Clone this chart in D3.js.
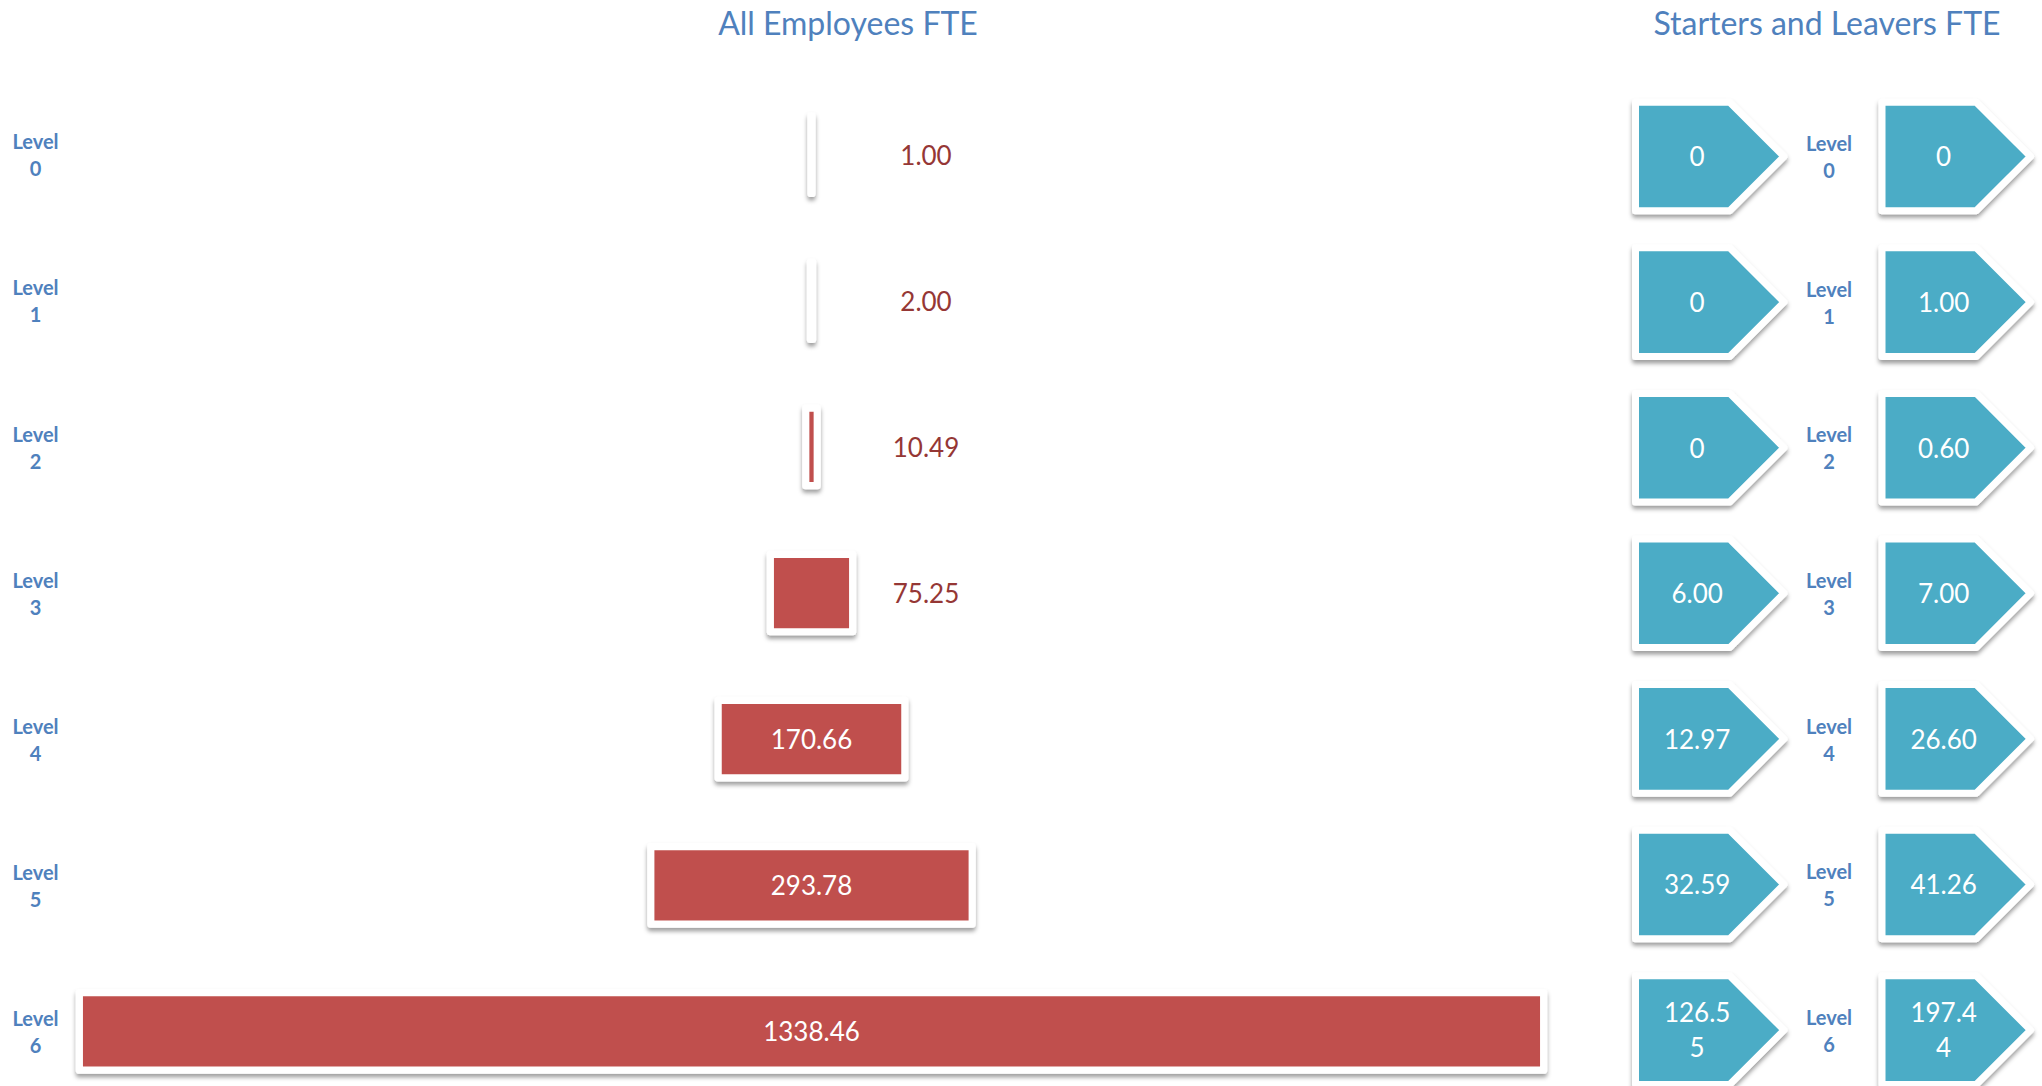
<!DOCTYPE html>
<html>
<head>
<meta charset="utf-8">
<script src="https://cdn.jsdelivr.net/npm/d3@7"></script>
<style>
  html, body { margin: 0; padding: 0; background: #ffffff; }
  svg { display: block; }
</style>
</head>
<body>
<svg id="chart" width="2042" height="1086"></svg>
<script>
// Headcount by grade level
const levels = ["0", "1", "2", "3", "4", "5", "6"];
const employeesFTE = [1.00, 2.00, 10.49, 75.25, 170.66, 293.78, 1338.46];
const startersFTE = [0, 0, 0, 6.00, 12.97, 32.59, 126.55];
const leaversFTE = [0, 1.00, 0.60, 7.00, 26.60, 41.26, 197.44];
const panelTitles = ["All Employees FTE", "Starters and Leavers FTE"];
const levelWord = "Level";

// Palette
const BLUE = "#4F81BD";
const RED = "#C0504D";
const DARK_RED = "#953735";
const TEAL = "#4BACC6";
const FONT = "Lato, 'Open Sans', sans-serif";

const svg = d3.select("#chart");

// Soft drop shadow shared by every shape
const defs = svg.append("defs");
defs.append("filter")
  .attr("id", "shadow")
  .attr("filterUnits", "userSpaceOnUse")
  .attr("x", 0).attr("y", 0).attr("width", 2042).attr("height", 1086)
  .append("feDropShadow")
  .attr("dx", 0).attr("dy", 3.5).attr("stdDeviation", 2.2)
  .attr("flood-color", "#000").attr("flood-opacity", 0.38);

const fmt = v => v === 0 ? "0" : v.toFixed(2);

// ---------- Panel titles ----------
const titleFont = 32;
svg.append("text")
  .attr("x", 848).attr("y", 35)
  .attr("text-anchor", "middle")
  .attr("font-family", FONT).attr("font-size", titleFont)
  .attr("fill", BLUE)
  .text(panelTitles[0]);

svg.append("text")
  .attr("x", 1827).attr("y", 35)
  .attr("text-anchor", "middle")
  .attr("font-family", FONT).attr("font-size", titleFont)
  .attr("fill", BLUE)
  .text(panelTitles[1]);

// ---------- Funnel of all employees ----------
const funnelCenterX = 811.5;
const yFunnel = d3.scaleBand()
  .domain(levels)
  .range([81.6, 1104.5])
  .paddingInner(0.47)
  .paddingOuter(0.235);

const wFunnel = d3.scaleLinear()
  .domain([0, d3.max(employeesFTE)])
  .range([0, 1464.3]);

const funnelData = levels.map((lv, i) => ({ level: lv, value: employeesFTE[i] }));

const bars = svg.append("g").attr("class", "funnel");

bars.selectAll("rect")
  .data(funnelData)
  .join("rect")
  .attr("x", d => funnelCenterX - wFunnel(d.value) / 2)
  .attr("y", d => yFunnel(d.level))
  .attr("width", d => wFunnel(d.value))
  .attr("height", yFunnel.bandwidth())
  .attr("fill", RED)
  .attr("stroke", "#ffffff")
  .attr("stroke-width", 7.2)
  .attr("stroke-linejoin", "round")
  .attr("filter", "url(#shadow)");

// Value labels: inside wide bars, in a column to the right of narrow ones
const valueFont = 26;
const outsideLabelX = 926;
const labels = bars.selectAll("text.value")
  .data(funnelData)
  .join("text")
  .attr("class", "value")
  .attr("font-family", FONT)
  .attr("font-size", valueFont)
  .attr("text-anchor", "middle")
  .attr("y", d => yFunnel(d.level) + yFunnel.bandwidth() / 2 + valueFont * 0.38)
  .text(d => fmt(d.value));

labels.each(function (d) {
  const tw = this.getComputedTextLength();
  const inside = wFunnel(d.value) > tw + 40;
  d3.select(this)
    .attr("x", inside ? funnelCenterX : outsideLabelX)
    .attr("fill", inside ? "#ffffff" : DARK_RED);
});

// Level captions
const levelFont = 20;
function levelCaption(g, x, cy, lv) {
  const t = g.append("text")
    .attr("font-family", FONT)
    .attr("font-weight", 700)
    .attr("font-size", levelFont)
    .attr("fill", BLUE)
    .attr("text-anchor", "middle");
  t.append("tspan").attr("x", x).attr("y", cy - 12.5 + levelFont * 0.36).text(levelWord);
  t.append("tspan").attr("x", x).attr("y", cy + 14.5 + levelFont * 0.36).text(lv);
}

const leftCaptions = svg.append("g").attr("class", "level-captions");
levels.forEach(lv => {
  levelCaption(leftCaptions, 35.5, yFunnel(lv) + yFunnel.bandwidth() / 2, lv);
});

// ---------- Starters and leavers arrows ----------
const yArrow = d3.scaleBand()
  .domain(levels)
  .range([83.7, 1102.9])
  .paddingInner(0.254)
  .paddingOuter(0.127);

const xArrow = d3.scaleBand()
  .domain(["starters", "leavers"])
  .range([1635.5, 2030.5])
  .paddingInner(0.3976)
  .paddingOuter(0);

const arrowData = [];
levels.forEach((lv, i) => {
  arrowData.push({ level: lv, series: "starters", value: startersFTE[i] });
  arrowData.push({ level: lv, series: "leavers", value: leaversFTE[i] });
});

function homePlate(x0, y0, w, h) {
  const p = d3.path();
  p.moveTo(x0, y0);
  p.lineTo(x0 + w - h / 2, y0);
  p.lineTo(x0 + w, y0 + h / 2);
  p.lineTo(x0 + w - h / 2, y0 + h);
  p.lineTo(x0, y0 + h);
  p.closePath();
  return p.toString();
}

const arrows = svg.append("g").attr("class", "arrows");
const aw = xArrow.bandwidth();
const ah = yArrow.bandwidth();

arrows.selectAll("path")
  .data(arrowData)
  .join("path")
  .attr("d", d => homePlate(xArrow(d.series), yArrow(d.level), aw, ah))
  .attr("fill", TEAL)
  .attr("stroke", "#ffffff")
  .attr("stroke-width", 7)
  .attr("stroke-linejoin", "round")
  .attr("filter", "url(#shadow)");

// Arrow labels, wrapped character by character when too wide for the box
const maxLabelWidth = 75;
const lineGap = 35;
arrows.selectAll("text")
  .data(arrowData)
  .join("text")
  .attr("font-family", FONT)
  .attr("font-size", valueFont)
  .attr("fill", "#ffffff")
  .attr("text-anchor", "middle")
  .each(function (d) {
    const t = d3.select(this);
    const cx = xArrow(d.series) + aw * 0.415;
    const cy = yArrow(d.level) + ah / 2;
    const str = fmt(d.value);
    const lines = [];
    let cur = "";
    for (const ch of str) {
      t.text(cur + ch);
      if (cur.length && this.getComputedTextLength() > maxLabelWidth) {
        lines.push(cur);
        cur = ch;
      } else {
        cur += ch;
      }
    }
    lines.push(cur);
    t.text(null);
    const y0 = cy - (lines.length - 1) * lineGap / 2 + valueFont * 0.38;
    lines.forEach((ln, k) => {
      t.append("tspan").attr("x", cx).attr("y", y0 + k * lineGap).text(ln);
    });
  });

// Level captions between the two arrow columns
const midCaptions = svg.append("g").attr("class", "mid-captions");
const midX = (xArrow("starters") + aw + xArrow("leavers")) / 2 - 4;
levels.forEach(lv => {
  levelCaption(midCaptions, midX, yArrow(lv) + ah / 2, lv);
});
</script>
</body>
</html>
